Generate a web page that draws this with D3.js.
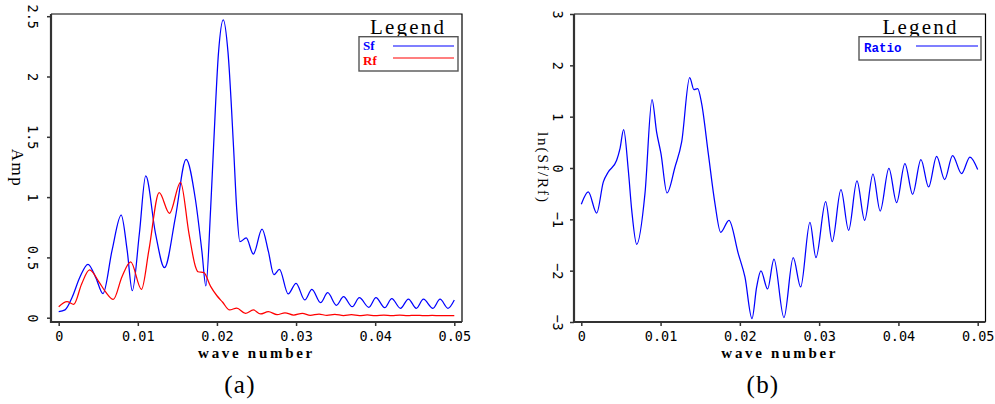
<!DOCTYPE html>
<html>
<head>
<meta charset="utf-8">
<script src="https://cdn.jsdelivr.net/npm/d3@7"></script>
<style>
  html, body { margin: 0; padding: 0; background: #fff; }
  svg { display: block; }
</style>
</head>
<body>
<svg id="chart" width="995" height="404"></svg>
<script>
// ---------- data ----------
const xTicks = [0, 0.01, 0.02, 0.03, 0.04, 0.05];
const xTickLabels = ["0", "0.01", "0.02", "0.03", "0.04", "0.05"];
const ampTicks = [0, 0.5, 1, 1.5, 2, 2.5];
const ampTickLabels = ["0", "0.5", "1", "1.5", "2", "2.5"];
const ratioTicks = [-3, -2, -1, 0, 1, 2, 3];
const ratioTickLabels = ["\u22123", "\u22122", "\u22121", "0", "1", "2", "3"];

const sfWave = [0, 0.0008, 0.0017, 0.0027, 0.0037, 0.0047, 0.0056, 0.00675, 0.0079, 0.00865, 0.0093,
  0.0102, 0.0110, 0.01223, 0.01337, 0.01476, 0.0161, 0.01729, 0.0181, 0.0186, 0.0192, 0.01957, 0.0202,
  0.0208, 0.0214, 0.0221, 0.0225, 0.0229, 0.0237, 0.0246, 0.0257, 0.0265, 0.0272, 0.0279, 0.0290,
  0.0300, 0.0311, 0.0320, 0.0331, 0.0340, 0.0351, 0.0360, 0.0371, 0.0380, 0.0392, 0.0401, 0.0412,
  0.0421, 0.0432, 0.0442, 0.0452, 0.0461, 0.0473, 0.0482, 0.0492, 0.0500];
const sfAmp = [0.05, 0.065, 0.17, 0.34, 0.443, 0.33, 0.20, 0.56, 0.85, 0.56, 0.224,
  0.70, 1.175, 0.70, 0.415, 0.837, 1.313, 0.976, 0.55, 0.263, 0.90, 1.413, 2.20,
  2.47, 2.20, 1.413, 0.90, 0.63, 0.661, 0.528, 0.735, 0.55, 0.357, 0.40, 0.197,
  0.285, 0.147, 0.235, 0.124, 0.207, 0.103, 0.174, 0.091, 0.166, 0.086, 0.166, 0.083,
  0.158, 0.078, 0.155, 0.078, 0.153, 0.078, 0.153, 0.078, 0.147];

const rfWave = [0, 0.00105, 0.0019, 0.0029, 0.0039, 0.00506, 0.0059, 0.0069, 0.0080, 0.0091, 0.01046,
  0.0114, 0.0127, 0.0140, 0.0154, 0.01646, 0.01729, 0.0176, 0.01835, 0.0192, 0.0200, 0.0207, 0.0216,
  0.0225, 0.0236, 0.0246, 0.0255, 0.0265, 0.0276, 0.0286, 0.0297, 0.0308, 0.0318, 0.0329, 0.0339,
  0.0349, 0.0360, 0.0370, 0.0380, 0.0390, 0.0400, 0.0411, 0.0421, 0.0431, 0.0441, 0.0451, 0.0462,
  0.0472, 0.0482, 0.0492, 0.0500];
const rfAmp = [0.091, 0.133, 0.111, 0.28, 0.396, 0.30, 0.216, 0.152, 0.34, 0.462, 0.235,
  0.56, 1.037, 0.866, 1.123, 0.70, 0.423, 0.381, 0.373, 0.26, 0.182, 0.13, 0.064,
  0.08, 0.036, 0.064, 0.031, 0.05, 0.025, 0.041, 0.022, 0.036, 0.02, 0.03, 0.019,
  0.027, 0.018, 0.025, 0.017, 0.023, 0.017, 0.022, 0.017, 0.021, 0.017, 0.02, 0.017,
  0.019, 0.017, 0.018, 0.017];

const ratioWave = [0, 0.00088, 0.00194, 0.00278, 0.0034, 0.00446, 0.00488, 0.00534, 0.00593, 0.00636,
  0.00699, 0.00803, 0.00892, 0.0095, 0.01005, 0.01081, 0.01182, 0.01266, 0.01367, 0.01421, 0.01468,
  0.01518, 0.01602, 0.01686, 0.01758, 0.01863, 0.0198, 0.02064, 0.02153, 0.02212, 0.02266, 0.0235,
  0.0243, 0.02556, 0.02673, 0.02767, 0.02884, 0.0296, 0.03082, 0.03165, 0.03275, 0.03372, 0.03477,
  0.03574, 0.03679, 0.0377, 0.0388, 0.03977, 0.04082, 0.04179, 0.04284, 0.04381, 0.04482, 0.04583,
  0.04683, 0.04797, 0.04902, 0.05];
const ratioVal = [-0.707, -0.467, -0.877, -0.27, -0.078, 0.15, 0.377, 0.748, -0.045, -0.82,
  -1.486, -0.5, 1.332, 0.70, 0.28, -0.486, 0.02, 0.507, 1.76, 1.527, 1.546,
  1.254, 0.28, -0.694, -1.253, -1.019, -1.668, -2.123, -2.934, -2.318, -2.006, -2.357,
  -1.773, -2.914, -1.746, -2.318, -1.058, -1.746, -0.655, -1.434, -0.422, -1.214, -0.253,
  -1.019, -0.117, -0.838, -0.006, -0.674, 0.086, -0.512, 0.164, -0.37, 0.228, -0.226,
  0.242, -0.109, 0.214, -0.031];

// ---------- drawing ----------
const svg = d3.select("#chart");
const tickFont = "'DejaVu Sans Mono', monospace";
const monoFont = "'Liberation Mono', 'Courier New', monospace";
const serifFont = "'Liberation Serif', 'DejaVu Serif', serif";

function panel(cfg) {
  const g = svg.append("g");
  const x = d3.scaleLinear().domain([0, 0.05]).range(cfg.xRange);
  const y = d3.scaleLinear().domain(cfg.yDomain).range(cfg.yRange);
  const L = cfg.frame[0], T = cfg.frame[1], R = cfg.frame[2], B = cfg.frame[3];

  // top & right thin frame
  g.append("path").attr("d", `M${L},${T}H${R}V${B}`).attr("fill", "none")
    .attr("stroke", "#000").attr("stroke-width", 1.2);

  // series
  cfg.series.forEach(s => {
    const pts = s.xs.map((v, i) => [v, s.ys[i]]);
    g.append("path").datum(pts)
      .attr("fill", "none").attr("stroke", s.color).attr("stroke-width", 1.25)
      .attr("d", d3.line().x(d => x(d[0])).y(d => y(d[1])).curve(d3.curveMonotoneX));
  });

  // x axis
  const xa = g.append("g").attr("transform", `translate(0,${B})`)
    .call(d3.axisBottom(x).tickValues(xTicks).tickSize(4).tickSizeOuter(0)
      .tickFormat((d, i) => xTickLabels[i]));
  xa.select(".domain").attr("d", `M${L},0H${R}`).attr("stroke", "#333").attr("stroke-width", 2.2);
  xa.selectAll(".tick line").attr("stroke", "#333").attr("stroke-width", 1.5);
  xa.selectAll(".tick text").attr("y", 18.7).attr("dy", null)
    .attr("font-family", tickFont).attr("font-size", 13.5).attr("fill", "#000");

  // y axis
  const ya = g.append("g").attr("transform", `translate(${L},0)`)
    .call(d3.axisLeft(y).tickValues(cfg.yTicks).tickSize(4).tickSizeOuter(0)
      .tickFormat((d, i) => cfg.yTickLabels[i]));
  ya.select(".domain").attr("d", `M0,${T}V${B + 1}`).attr("stroke", "#333").attr("stroke-width", 2.2);
  ya.selectAll(".tick line").attr("stroke", "#333").attr("stroke-width", 1.5);
  ya.selectAll(".tick text")
    .attr("x", null).attr("dy", null).attr("text-anchor", "middle")
    .attr("transform", `translate(${cfg.yLabelBase - L},0) rotate(90)`)
    .attr("font-family", tickFont).attr("font-size", 13.5).attr("fill", "#000");

  // axis titles
  g.append("text").attr("x", (L + R) / 2).attr("y", 357.5).attr("text-anchor", "middle")
    .attr("font-family", serifFont).attr("font-weight", "bold").attr("font-size", 15)
    .attr("letter-spacing", 2.7)
    .text("wave number");
  g.append("text").attr("text-anchor", "middle")
    .attr("transform", `translate(${cfg.yTitleX},${(T + B) / 2}) rotate(90)`)
    .attr("font-family", serifFont).attr("font-size", cfg.yTitleSize)
    .attr("letter-spacing", cfg.yTitleSpacing)
    .text(cfg.yTitle);

  // legend
  g.append("text").attr("x", cfg.legend.cx).attr("y", 33.5).attr("text-anchor", "middle")
    .attr("font-family", serifFont).attr("font-size", 21).attr("letter-spacing", 2.2)
    .text("Legend");
  g.append("rect").attr("x", cfg.legend.box[0]).attr("y", cfg.legend.box[1])
    .attr("width", cfg.legend.box[2]).attr("height", cfg.legend.box[3])
    .attr("fill", "#fff").attr("stroke", "#555").attr("stroke-width", 1.4);
  cfg.series.forEach((s, i) => {
    const ly = cfg.legend.lineY[i];
    g.append("line").attr("x1", cfg.legend.lineX[0]).attr("x2", cfg.legend.lineX[1])
      .attr("y1", ly).attr("y2", ly).attr("stroke", s.color).attr("stroke-width", 1.2);
    g.append("text").attr("x", cfg.legend.textX).attr("y", cfg.legend.textY[i])
      .attr("fill", s.color).attr("font-family", s.font).attr("font-weight", "bold")
      .attr("font-size", s.fontSize).text(s.name);
  });

  // panel caption
  g.append("text").attr("x", cfg.captionX).attr("y", 393).attr("text-anchor", "middle")
    .attr("font-family", serifFont).attr("font-size", 25).attr("letter-spacing", 1.2)
    .text(cfg.caption);
}

panel({
  xRange: [58.7, 454.3], yDomain: [0, 2.5], yRange: [317.7, 16.2],
  frame: [51, 14, 462, 322],
  yTicks: ampTicks, yTickLabels: ampTickLabels, yLabelBase: 27.6,
  yTitle: "Amp", yTitleX: 11.5, yTitleSize: 17, yTitleSpacing: 1.5,
  series: [
    { name: "Sf", xs: sfWave, ys: sfAmp, color: "#0000ff", font: serifFont, fontSize: 13 },
    { name: "Rf", xs: rfWave, ys: rfAmp, color: "#ff0000", font: serifFont, fontSize: 13 }
  ],
  legend: { cx: 408, box: [359, 36.7, 99, 34.3], lineX: [393, 454], lineY: [46, 58],
            textX: 363, textY: [50, 64.5] },
  caption: "(a)", captionX: 240
});

panel({
  xRange: [581.3, 977.7], yDomain: [-3, 3], yRange: [322, 14],
  frame: [574, 14, 985.5, 322],
  yTicks: ratioTicks, yTickLabels: ratioTickLabels, yLabelBase: 552.6,
  yTitle: "ln(Sf/Rf)", yTitleX: 538, yTitleSize: 15, yTitleSpacing: 2,
  series: [
    { name: "Ratio", xs: ratioWave, ys: ratioVal, color: "#0000ff", font: monoFont, fontSize: 12.5 }
  ],
  legend: { cx: 920.5, box: [859, 36.7, 122, 23.3], lineX: [916, 978], lineY: [46],
            textX: 864, textY: [51.7] },
  caption: "(b)", captionX: 763
});
</script>
</body>
</html>
